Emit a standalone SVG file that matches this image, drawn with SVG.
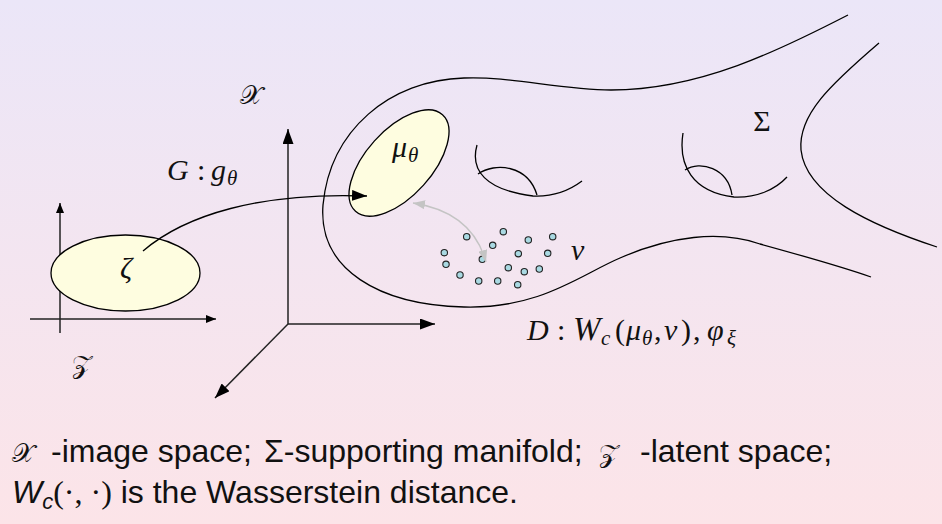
<svg xmlns="http://www.w3.org/2000/svg" width="942" height="524" viewBox="0 0 942 524">
  <defs>
    <linearGradient id="bg" x1="0" y1="0" x2="0" y2="1">
      <stop offset="0" stop-color="#ebe6f8"/>
      <stop offset="1" stop-color="#fce4e8"/>
    </linearGradient>
    <marker id="ahBig" viewBox="0 0 15 11" refX="15" refY="5.5" markerWidth="15" markerHeight="11" markerUnits="userSpaceOnUse" orient="auto">
      <path d="M0,0 L15,5.5 L0,11 z" fill="#000"/>
    </marker>
    <marker id="ahSmall" viewBox="0 0 10 8" refX="10" refY="4" markerWidth="10" markerHeight="8" markerUnits="userSpaceOnUse" orient="auto">
      <path d="M0,0 L10,4 L0,8 z" fill="#000"/>
    </marker>
    <marker id="ahGray" viewBox="0 0 12 9" refX="12" refY="4.5" markerWidth="12" markerHeight="9" markerUnits="userSpaceOnUse" orient="auto-start-reverse">
      <path d="M0,0 L12,4.5 L0,9 z" fill="#c4c4c4"/>
    </marker>
  </defs>
  <style>
    .ln { fill: none; stroke: #000; stroke-width: 1.3; }
    .ax { fill: none; stroke: #222; stroke-width: 1.5; }
    .blob { fill: #fefde0; stroke: #000; stroke-width: 1.3; }
    .dot { fill: #a9d9e2; stroke: #222; stroke-width: 1.1; }
    .math { font-family: "Liberation Serif", "DejaVu Serif", serif; font-style: italic; font-size: 30px; fill: #111; }
    .up { font-style: normal; }
    .sub { font-size: 21px; }
    .cal { font-family: "DejaVu Serif", "DejaVu Sans", serif; font-style: normal; font-size: 26px; fill: #111; }
    .cap { font-family: "Liberation Sans", Arial, sans-serif; font-size: 32px; fill: #111; }
  </style>

  <rect x="0" y="0" width="942" height="524" fill="url(#bg)"/>

  <g id="manifold">
    <path class="ln" d="M848,15 C780,50 700,90 611,90 C560,90 510,76 464,78 C390,80 330,130 323,205 C318,270 380,305 464,307 C540,309 580,275 620,258 C670,236 720,230 760,244 C800,255 840,266 871,277"/>
    <path class="ln" d="M879,43 C830,85 798,115 801,150 C806,195 870,225 937,247"/>
    <path class="ln" d="M477,145 C470,170 485,190 533,196 C555,197 570,190 582,181"/>
    <path class="ln" d="M478,174 C495,162 528,165 537,195"/>
    <path class="ln" d="M683,133 C678,165 692,192 734,197 C756,198 775,190 787,177"/>
    <path class="ln" d="M685,170 C700,160 728,168 732,195"/>
  </g>

  <g id="latent-space">
    <line class="ax" x1="60" y1="333" x2="60" y2="203" marker-end="url(#ahSmall)"/>
    <line class="ax" x1="30" y1="319" x2="216" y2="319" marker-end="url(#ahSmall)"/>
    <ellipse class="blob" cx="125.5" cy="273" rx="74.5" ry="38"/>
  </g>

  <g id="image-space-axes">
    <line class="ax" x1="288" y1="324" x2="288" y2="129" marker-end="url(#ahBig)"/>
    <line class="ax" x1="288" y1="324" x2="435" y2="324" marker-end="url(#ahBig)"/>
    <line class="ax" x1="288" y1="324" x2="215" y2="398" marker-end="url(#ahBig)"/>
  </g>

  <g id="mu-theta">
    <ellipse class="blob" cx="399" cy="163" rx="65" ry="33" transform="rotate(-48 399 163)"/>
  </g>

  <g id="nu-samples">
    <circle class="dot" cx="466.7" cy="236.7" r="3.2"/>
    <circle class="dot" cx="503.3" cy="231.7" r="3.2"/>
    <circle class="dot" cx="528.3" cy="240" r="3.2"/>
    <circle class="dot" cx="552.7" cy="236.7" r="3.2"/>
    <circle class="dot" cx="492.7" cy="245.3" r="3.2"/>
    <circle class="dot" cx="444.3" cy="252.7" r="3.2"/>
    <circle class="dot" cx="518.3" cy="253.7" r="3.2"/>
    <circle class="dot" cx="547.7" cy="253.3" r="3.2"/>
    <circle class="dot" cx="446" cy="264.3" r="3.2"/>
    <circle class="dot" cx="482.3" cy="259.3" r="3.2"/>
    <circle class="dot" cx="508.3" cy="267.7" r="3.2"/>
    <circle class="dot" cx="524.3" cy="271.7" r="3.2"/>
    <circle class="dot" cx="539.3" cy="269" r="3.2"/>
    <circle class="dot" cx="460" cy="275" r="3.2"/>
    <circle class="dot" cx="478.7" cy="281" r="3.2"/>
    <circle class="dot" cx="497.7" cy="281" r="3.2"/>
    <circle class="dot" cx="517.7" cy="284.7" r="3.2"/>
  </g>

  <g id="connectors">
    <path class="ln" d="M143,251 C185,215 260,192 367,196" marker-end="url(#ahBig)"/>
    <path d="M413,203 Q472,212 486,262" fill="none" stroke="#c4c4c4" stroke-width="1.4" marker-start="url(#ahGray)" marker-end="url(#ahGray)"/>
  </g>

  <g id="labels">
    <text class="cal" x="251" y="104" text-anchor="middle">𝒳</text>
    <text class="cal" x="82" y="373" text-anchor="middle">𝒵</text>
    <text class="math" y="180"><tspan x="167">G</tspan><tspan class="up" x="197">:</tspan><tspan x="211">g</tspan><tspan class="sub" x="227" dy="5">θ</tspan></text>
    <text class="math" y="157"><tspan x="392">μ</tspan><tspan class="sub" x="408" dy="5">θ</tspan></text>
    <text class="math" x="126" y="278" font-size="32" text-anchor="middle">ζ</text>
    <text class="math" x="571" y="260">ν</text>
    <text class="math up" x="762" y="131" font-size="32" text-anchor="middle">Σ</text>
    <text class="math" y="340"><tspan x="527">D</tspan><tspan class="up" x="557">:</tspan><tspan x="573" font-size="33">W</tspan><tspan class="sub" x="601" dy="5">c</tspan><tspan class="up" x="615" dy="-5">(</tspan><tspan x="626">μ</tspan><tspan class="sub" x="642" dy="5">θ</tspan><tspan class="up" x="654" dy="-5">,</tspan><tspan x="664">ν</tspan><tspan class="up" x="681">)</tspan><tspan class="up" x="693">,</tspan><tspan x="707">φ</tspan><tspan class="sub" x="727" dy="5">ξ</tspan></text>
  </g>

  <g id="caption">
    <text class="cap" y="462"><tspan class="cal" x="12" font-size="30">𝒳</tspan><tspan x="51">-image space;</tspan><tspan x="264">Σ-supporting manifold;</tspan><tspan class="cal" x="599" font-size="34">𝒵</tspan><tspan x="640">-latent space;</tspan></text>
    <text class="cap" x="12" y="503"><tspan font-style="italic">W</tspan><tspan font-style="italic" font-size="22" dy="6">c</tspan><tspan font-family="Liberation Serif, serif" dy="-6">(·, ·)</tspan> is the Wasserstein distance.</text>
  </g>
</svg>
